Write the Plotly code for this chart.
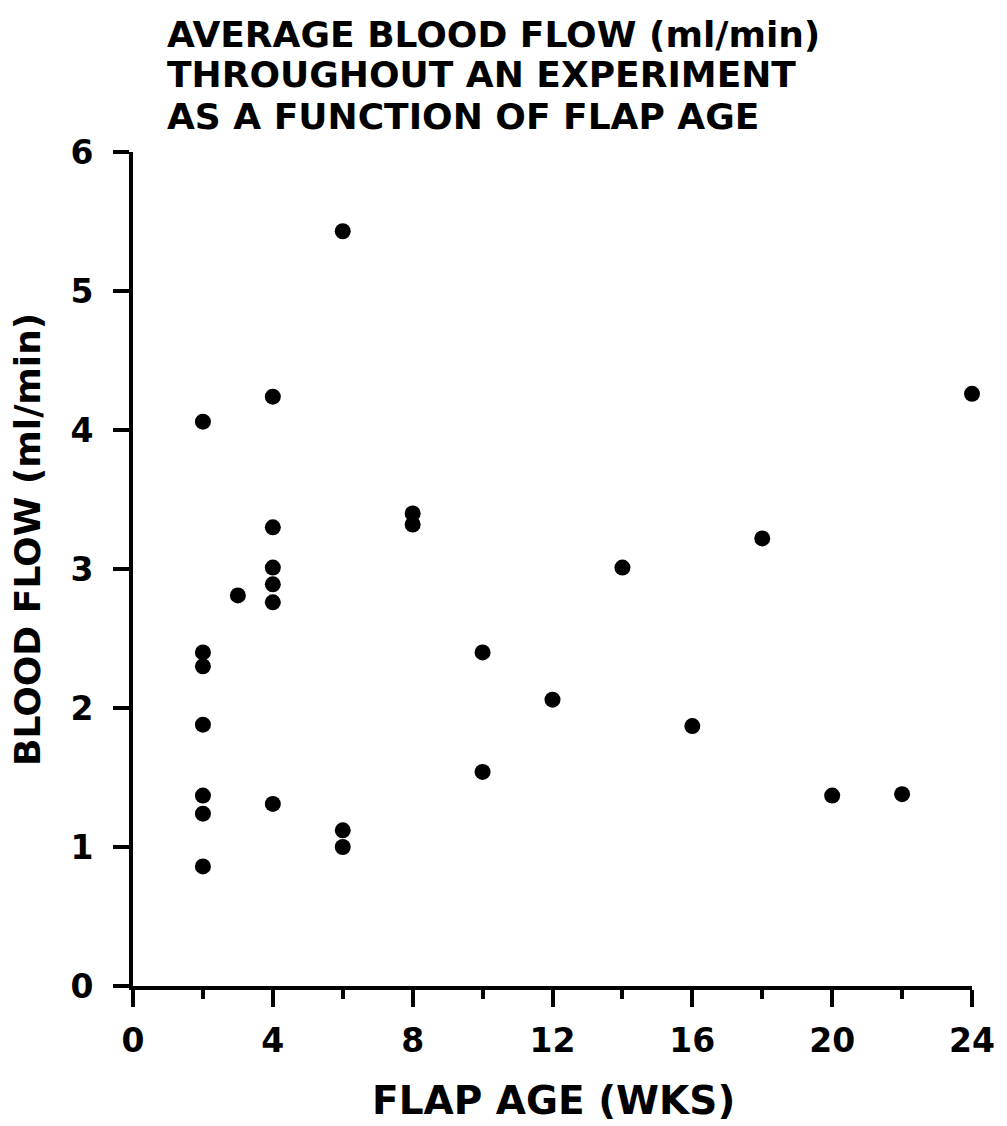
import plotly.graph_objects as go

# Data (flap age in weeks, blood flow in ml/min)
flap_age = [2, 2, 2, 2, 2, 2, 2,
            3,
            4, 4, 4, 4, 4, 4,
            6, 6, 6,
            8, 8,
            10, 10,
            12, 14, 16, 18, 20, 22, 24]
blood_flow = [4.06, 2.40, 2.30, 1.88, 1.37, 1.24, 0.86,
              2.81,
              4.24, 3.30, 3.01, 2.89, 2.76, 1.31,
              5.43, 1.12, 1.00,
              3.40, 3.32,
              2.40, 1.54,
              2.06, 3.01, 1.87, 3.22, 1.37, 1.38, 4.26]

x_ticks = [0, 4, 8, 12, 16, 20, 24]
x_minor_ticks = [2, 6, 10, 14, 18, 22]
y_ticks = [0, 1, 2, 3, 4, 5, 6]

title_lines = ["AVERAGE BLOOD FLOW (ml/min)",
               "THROUGHOUT AN EXPERIMENT",
               "AS A FUNCTION OF FLAP AGE"]
x_title = "FLAP AGE (WKS)"
y_title = "BLOOD FLOW (ml/min)"

FONT = "DejaVu Sans"
W, H = 1007, 1126
ML, MR, MT, MB = 133, 32, 152, 140
plot_h = H - MT - MB

fig = go.Figure()
fig.add_trace(go.Scatter(
    x=flap_age, y=blood_flow, mode="markers",
    marker=dict(size=16, color="black", line=dict(width=0)),
    cliponaxis=False, showlegend=False,
))

fig.update_layout(
    width=W, height=H,
    margin=dict(l=ML, r=MR, t=MT, b=MB, pad=0),
    paper_bgcolor="white", plot_bgcolor="white",
    font=dict(family=FONT, color="black"),
)

fig.update_xaxes(
    range=[0, 24], tickmode="array", tickvals=x_ticks,
    ticktext=[str(v) for v in x_ticks],
    showgrid=False, zeroline=False,
    showline=True, linecolor="black", linewidth=4,
    ticks="outside", ticklen=17, tickwidth=4, tickcolor="black",
    minor=dict(tickvals=x_minor_ticks, ticks="outside", ticklen=9, tickwidth=4, tickcolor="black"),
    tickfont=dict(family=FONT, size=33, color="black", weight="bold"),
    ticklabelstandoff=5,
)
fig.update_yaxes(
    range=[0, 6], tickmode="array", tickvals=y_ticks,
    ticktext=[str(v) for v in y_ticks],
    showgrid=False, zeroline=False,
    showline=True, linecolor="black", linewidth=4,
    ticks="outside", ticklen=16, tickwidth=4, tickcolor="black",
    tickfont=dict(family=FONT, size=33, color="black", weight="bold"),
    ticklabelstandoff=13,
)

# Title lines placed individually (centres)
title_centres_px = [34, 75, 116]
for line, yc in zip(title_lines, title_centres_px):
    fig.add_annotation(
        text=line, xref="paper", yref="paper",
        x=(165 - ML) / (W - ML - MR), y=(H - MB - yc) / plot_h,
        xanchor="left", yanchor="middle", align="left",
        showarrow=False,
        font=dict(family=FONT, size=36, color="black", weight="bold"),
    )

fig.add_annotation(
    text=x_title, xref="paper", yref="paper",
    x=0.501, y=-0.137, xanchor="center", yanchor="middle",
    showarrow=False,
    font=dict(family=FONT, size=39, color="black", weight="bold"),
)
fig.add_annotation(
    text=y_title, xref="paper", yref="paper", textangle=-90,
    x=-0.125, y=0.535, xanchor="center", yanchor="middle",
    showarrow=False,
    font=dict(family=FONT, size=36, color="black", weight="bold"),
)

fig.write_html("out.html")
